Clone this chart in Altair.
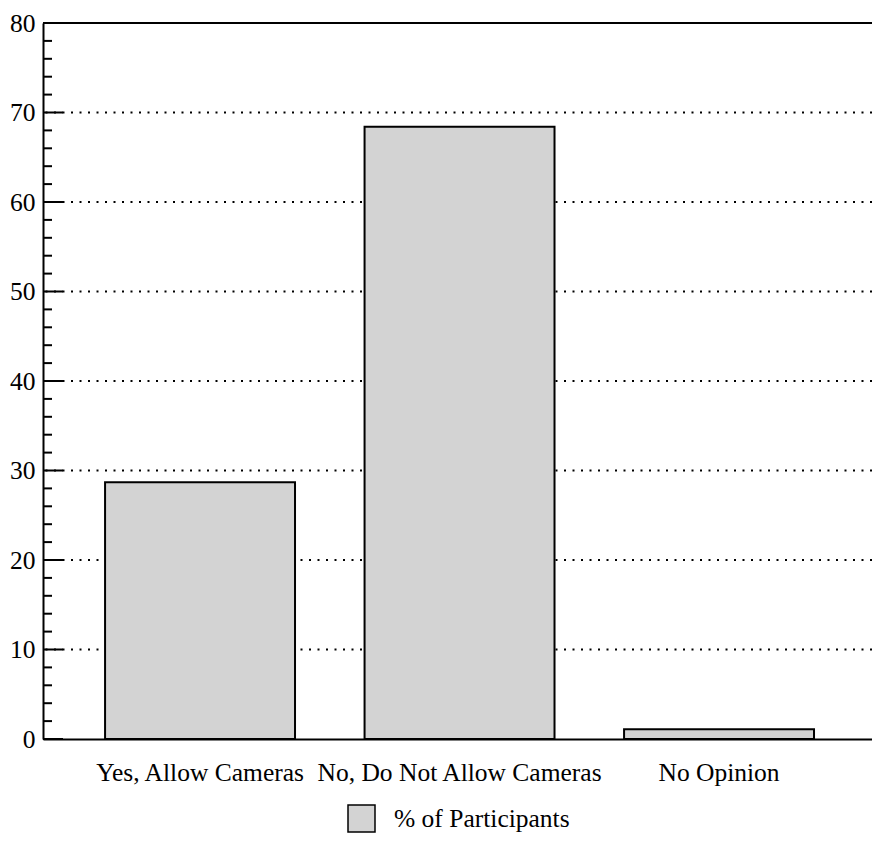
import altair as alt
import pandas as pd

# ---- data ----
categories = ["Yes, Allow Cameras", "No, Do Not Allow Cameras", "No Opinion"]
values = [28.7, 68.4, 1.1]
series_name = "% of Participants"
grid_values = [10, 20, 30, 40, 50, 60, 70]
major_ticks = [0, 10, 20, 30, 40, 50, 60, 70, 80]
minor_ticks = [v for v in range(2, 80, 2) if v % 10 != 0]
frame_top = [80]

FONT = "Liberation Serif"
FS = 25.5
W, H = 829, 716

bars_df = pd.DataFrame({"category": categories, "value": values, "series": [series_name] * len(categories)})

y_scale = alt.Scale(domain=[0, 80], nice=False, zero=True)
x_scale = alt.Scale(domain=categories, paddingInner=0.268, paddingOuter=0.2313, align=0.517)

y_axis = alt.Axis(
    title=None, values=major_ticks, ticks=False, tickSize=0, labelPadding=8,
    labelFont=FONT, labelFontSize=FS, labelColor="black", grid=False,
    domainColor="black", domainWidth=2,
)


def yenc(field):
    return alt.Y(field, scale=y_scale, axis=y_axis)


grid = alt.Chart(pd.DataFrame({"v": grid_values})).mark_rule(
    color="black", strokeWidth=2, strokeDash=[2, 6.5]
).encode(y=yenc("v:Q"))

bars = alt.Chart(bars_df).mark_bar(stroke="black", strokeWidth=2).encode(
    x=alt.X(
        "category:N",
        scale=x_scale,
        sort=categories,
        axis=alt.Axis(
            title=None, labelAngle=0, ticks=False, tickSize=0, labelPadding=21,
            labelFont=FONT, labelFontSize=FS, labelColor="black", labelLimit=0,
            domainColor="black", domainWidth=2, grid=False,
        ),
    ),
    y=yenc("value:Q"),
    fill=alt.Fill(
        "series:N",
        scale=alt.Scale(domain=[series_name], range=["#d3d3d3"]),
        legend=alt.Legend(
            title=None, orient="none", legendX=304, legendY=781, direction="horizontal",
            symbolType="square", symbolSize=729, symbolStrokeColor="black",
            symbolStrokeWidth=1.5, labelFont=FONT, labelFontSize=FS,
            labelColor="black", labelOffset=18, padding=0, labelLimit=0,
        ),
    ),
)

top_line = alt.Chart(pd.DataFrame({"v": frame_top})).mark_rule(
    color="black", strokeWidth=2
).encode(y=yenc("v:Q"))

major = alt.Chart(pd.DataFrame({"v": major_ticks})).mark_rule(
    color="black", strokeWidth=2
).encode(y=yenc("v:Q"), x=alt.value(0), x2=alt.value(20))

minor = alt.Chart(pd.DataFrame({"v": minor_ticks})).mark_rule(
    color="black", strokeWidth=2
).encode(y=yenc("v:Q"), x=alt.value(0), x2=alt.value(9))

chart = alt.layer(grid, bars, top_line, major, minor).properties(
    width=W,
    height=H,
    autosize=alt.AutoSizeParams(type="none"),
    padding={"left": 35, "top": 15, "right": 0, "bottom": 95},
    background="white",
).configure_view(stroke=None)

chart.save("out.html", embed_options={"renderer": "svg", "actions": False})
